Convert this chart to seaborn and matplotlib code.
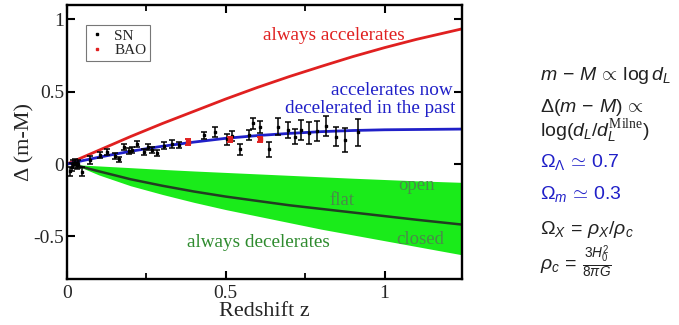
import numpy as np
import pandas as pd
import matplotlib
matplotlib.use("Agg")
import matplotlib.pyplot as plt
from matplotlib.lines import Line2D
from matplotlib.ticker import MultipleLocator
import seaborn as sns

# Model curves: Delta(m-M) relative to the empty (Milne) universe
z_acc = [0.0, 0.1, 0.2, 0.3, 0.4, 0.5, 0.6, 0.7, 0.8, 0.9, 1.0, 1.1, 1.25]
d_acc = [0.0, 0.095, 0.19, 0.28, 0.365, 0.45, 0.53, 0.605, 0.675, 0.743,
         0.805, 0.862, 0.938]

z_lcdm = [0.0, 0.05, 0.1, 0.15, 0.2, 0.25, 0.3, 0.4, 0.5, 0.6, 0.7, 0.8,
          0.9, 1.0, 1.25]
d_lcdm = [0.0, 0.024, 0.047, 0.068, 0.088, 0.106, 0.123, 0.152, 0.178,
          0.197, 0.212, 0.224, 0.232, 0.237, 0.242]

z_dec = [0.03, 0.1, 0.2, 0.3, 0.4, 0.5, 0.6, 0.7, 0.8, 0.9, 1.0, 1.1, 1.25]
d_open = [-0.005, -0.013, -0.025, -0.037, -0.048, -0.058, -0.068, -0.078,
          -0.088, -0.098, -0.107, -0.116, -0.127]
d_flat = [-0.01, -0.05, -0.105, -0.15, -0.19, -0.225, -0.255, -0.285,
          -0.31, -0.335, -0.36, -0.385, -0.42]
d_closed = [-0.01, -0.075, -0.15, -0.21, -0.265, -0.315, -0.36, -0.405,
            -0.45, -0.49, -0.53, -0.57, -0.63]

# Supernova binned residuals
sn_z = [0.01, 0.015, 0.02, 0.025, 0.03, 0.035, 0.047, 0.073, 0.103, 0.126,
        0.15, 0.163, 0.178, 0.194, 0.205, 0.22, 0.241, 0.254, 0.268, 0.283,
        0.304, 0.331, 0.354, 0.43, 0.467, 0.504, 0.52, 0.546, 0.572, 0.586,
        0.609, 0.635, 0.663, 0.696, 0.717, 0.737, 0.761, 0.787, 0.815, 0.848,
        0.876, 0.916]
sn_d = [-0.05, -0.02, 0.0, 0.01, -0.01, 0.0, -0.053, 0.028, 0.062, 0.085,
        0.055, 0.032, 0.12, 0.092, 0.097, 0.138, 0.085, 0.12, 0.097, 0.074,
        0.127, 0.138, 0.131, 0.2, 0.224, 0.17, 0.196, 0.101, 0.2, 0.281,
        0.258, 0.101, 0.258, 0.235, 0.189, 0.235, 0.217, 0.228, 0.263, 0.189,
        0.166, 0.219]
sn_err = [0.03, 0.03, 0.025, 0.025, 0.025, 0.025, 0.03, 0.025, 0.02, 0.02,
          0.02, 0.02, 0.02, 0.02, 0.02, 0.02, 0.02, 0.02, 0.02, 0.02,
          0.025, 0.025, 0.02, 0.025, 0.035, 0.04, 0.035, 0.04, 0.035, 0.04,
          0.04, 0.052, 0.058, 0.058, 0.053, 0.07, 0.075, 0.07, 0.07, 0.067,
          0.08, 0.094]

# Baryon acoustic oscillation points
bao_z = [0.38, 0.514, 0.609]
bao_d = [0.154, 0.17, 0.17]
bao_err = [0.02, 0.02, 0.02]

RED = "#e02020"
BLUE = "#2020c8"
GREEN = "#1aeb1a"

sns.set_theme(style="white")
plt.rcParams["font.family"] = ["Liberation Serif", "DejaVu Serif"]
plt.rcParams["mathtext.fontset"] = "custom"
plt.rcParams["mathtext.rm"] = "Liberation Sans"
plt.rcParams["mathtext.it"] = "Liberation Sans:italic"
plt.rcParams["mathtext.bf"] = "Liberation Sans:bold"
plt.rcParams["mathtext.sf"] = "Liberation Serif"

fig = plt.figure(figsize=(6.79, 3.25), dpi=100)
ax = fig.add_axes([67 / 679, 1 - 279 / 325, (462 - 67) / 679, (279 - 5) / 325])

# Decelerating family: band from open to closed, flat in the middle
ax.fill_between(z_dec, d_open, d_closed, color=GREEN, lw=0, zorder=1)
sns.lineplot(x=z_dec, y=d_flat, ax=ax, color="#223d22", lw=1.8, zorder=2)
sns.lineplot(x=z_acc, y=d_acc, ax=ax, color=RED, lw=2.0, zorder=2)
sns.lineplot(x=z_lcdm, y=d_lcdm, ax=ax, color=BLUE, lw=2.0, zorder=2)

ax.errorbar(sn_z, sn_d, yerr=sn_err, fmt="s", ms=2, color="black",
            ecolor="black", elinewidth=1.1, capsize=2.2, capthick=1.1, zorder=3)
ax.errorbar(bao_z, bao_d, yerr=bao_err, fmt="s", ms=2.5, color=RED,
            ecolor=RED, elinewidth=1.6, capsize=2.2, capthick=1.4, zorder=4)

ax.set_xlim(0, 1.244)
ax.set_ylim(-0.795, 1.1)
ax.xaxis.set_minor_locator(MultipleLocator(0.25))
ax.set_xticks([0, 0.5, 1])
ax.set_xticklabels(["0", "0.5", "1"])
ax.set_yticks([-0.5, 0, 0.5, 1])
ax.set_yticklabels(["-0.5", "0", "0.5", "1"])
ax.tick_params(which="both", direction="in", top=True, right=True,
               bottom=True, left=True, color="black", labelsize=14)
ax.tick_params(axis="y", pad=2)
ax.tick_params(axis="x", pad=4)
ax.tick_params(which="major", length=6, width=1.5)
ax.tick_params(which="minor", length=4, width=1.3)
for sp in ax.spines.values():
    sp.set_color("black")
    sp.set_linewidth(1.7)

ax.set_xlabel("Redshift z", fontsize=16, labelpad=0)
ax.set_ylabel("Δ (m-M)", fontsize=16, va="center")
ax.yaxis.set_label_coords(-0.106, 0.5)

ax.text(0.84, 0.89, "always accelerates", color=RED, fontsize=13.8,
        ha="center", va="center")
ax.text(1.215, 0.51, "accelerates now", color=BLUE, fontsize=13.8,
        ha="right", va="center")
ax.text(1.222, 0.387, "decelerated in the past", color=BLUE, fontsize=13.8,
        ha="right", va="center")
ax.text(1.10, -0.15, "open", color="#4a8a4a", fontsize=13.5, ha="center", va="center")
ax.text(0.865, -0.25, "flat", color="#4a8a4a", fontsize=13.5, ha="center", va="center")
ax.text(1.112, -0.52, "closed", color="#4a8a4a", fontsize=13.5, ha="center", va="center")
ax.text(0.602, -0.545, "always decelerates", color="#2e8b2e", fontsize=13.8,
        ha="center", va="center")

handles = [Line2D([], [], ls="none", marker="s", ms=2, color="black"),
           Line2D([], [], ls="none", marker="s", ms=2, color=RED)]
leg = ax.legend(handles, ["SN", "BAO"], loc="upper left",
                bbox_to_anchor=(0.048, 0.927), borderaxespad=0, fontsize=11,
                frameon=True, fancybox=False, edgecolor="#555555",
                handlelength=1.0, handletextpad=0.6, borderpad=0.25,
                labelspacing=0.05)
leg.get_frame().set_linewidth(0.8)

# Relations printed beside the plot
sans = ["Liberation Sans", "DejaVu Sans"]
fx = 540 / 679
rows = [
    (76, r"$m\,-\,M\,\propto\,\log d_L$", "#222222"),
    (108, r"$\Delta(m\,-\,M)\,\propto$", "#222222"),
    (131, r"$\log(d_L/d_L^{\mathsf{Milne}})$", "#222222"),
    (162, r"$\Omega_\Lambda\,\simeq\,0.7$", BLUE),
    (194, r"$\Omega_m\,\simeq\,0.3$", BLUE),
    (229, r"$\Omega_X\,=\,\rho_X/\rho_c$", "#222222"),
    (262, r"$\rho_c\,=\,\frac{3H_0^2}{8\pi G}$", "#222222"),
]
for y, s, c in rows:
    fig.text(fx, 1 - y / 325, s, fontsize=14, color=c, ha="left",
             va="center", family=sans)

fig.savefig("out.png", dpi=100)
